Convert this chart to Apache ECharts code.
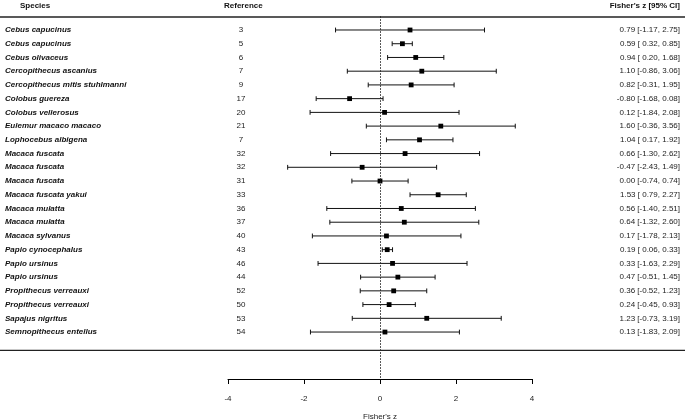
<!DOCTYPE html>
<html>
<head>
<meta charset="utf-8">
<script src="https://cdn.jsdelivr.net/npm/echarts@6/dist/echarts.min.js"></script>
<style>html,body{margin:0;padding:0;background:#fff}#c{width:685px;height:419px}</style>
</head>
<body>
<div id="c"></div>
<script>
var species = ["Cebus capucinus","Cebus capucinus","Cebus olivaceus","Cercopithecus ascanius","Cercopithecus mitis stuhlmanni","Colobus guereza","Colobus vellerosus","Eulemur macaco macaco","Lophocebus albigena","Macaca fuscata","Macaca fuscata","Macaca fuscata","Macaca fuscata yakui","Macaca mulatta","Macaca mulatta","Macaca sylvanus","Papio cynocephalus","Papio ursinus","Papio ursinus","Propithecus verreauxi","Propithecus verreauxi","Sapajus nigritus","Semnopithecus entellus"];
var refs = [3,5,6,7,9,17,20,21,7,32,32,31,33,36,37,40,43,46,44,52,50,53,54];
var est = [0.79,0.59,0.94,1.10,0.82,-0.80,0.12,1.60,1.04,0.66,-0.47,0.00,1.53,0.56,0.64,0.17,0.19,0.33,0.47,0.36,0.24,1.23,0.13];
var lo  = [-1.17,0.32,0.20,-0.86,-0.31,-1.68,-1.84,-0.36,0.17,-1.30,-2.43,-0.74,0.79,-1.40,-1.32,-1.78,0.06,-1.63,-0.51,-0.52,-0.45,-0.73,-1.83];
var hi  = [2.75,0.85,1.68,3.06,1.95,0.08,2.08,3.56,1.92,2.62,1.49,0.74,2.27,2.51,2.60,2.13,0.33,2.29,1.45,1.23,0.93,3.19,2.09];
var xTicks = [-4,-2,0,2,4];

function fmt(v){ var s = v.toFixed(2); return v < 0 ? s : ' ' + s; }
function ciText(i){ return est[i].toFixed(2) + ' [' + fmt(lo[i]) + ', ' + hi[i].toFixed(2) + ']'; }

var data = est.map(function(e,i){ return [e, i, lo[i], hi[i]]; });
var YMIN = -1, YMAX = 25.42;
var FONT = 'Liberation Sans, Arial, sans-serif';

function yAx(extra){
  var base = {
    type:'value', min:YMIN, max:YMAX, interval:1, inverse:true,
    axisLine:{show:false}, axisTick:{show:false}, splitLine:{show:false},
    axisLabel:{fontSize:8, fontFamily:FONT, color:'#111', showMaxLabel:false, showMinLabel:false}
  };
  for (var k in extra){
    if (k === 'axisLabel'){ for (var j in extra.axisLabel) base.axisLabel[j] = extra.axisLabel[j]; }
    else base[k] = extra[k];
  }
  return base;
}
function idxOf(v){ var i = Math.round(v); return (Math.abs(v-i) < 1e-6 && i >= 0 && i < species.length) ? i : -1; }

var chart = echarts.init(document.getElementById('c'), null, {renderer:'canvas'});
chart.setOption({
  animation:false,
  grid:{left:228, right:153, top:16.27, bottom:40, containLabel:false, outerBoundsMode:'none'},
  xAxis:{
    type:'value', min:-4, max:4, interval:2,
    axisLine:{onZero:false, lineStyle:{color:'#000', width:1}},
    axisTick:{length:5, lineStyle:{color:'#000'}},
    axisLabel:{fontSize:8, fontFamily:FONT, color:'#222', margin:16,
      formatter:function(v){ return xTicks.indexOf(v) >= 0 ? String(v) : ''; }},
    splitLine:{show:false},
    name:"Fisher's z", nameLocation:'middle', nameGap:34,
    nameTextStyle:{fontSize:8, fontFamily:FONT, color:'#222'}
  },
  yAxis:[
    yAx({position:'left', axisLabel:{align:'left', margin:223, fontStyle:'italic', fontWeight:'bold',
      formatter:function(v){ var i = idxOf(v); return i < 0 ? '' : species[i]; }}}),
    yAx({position:'left', offset:-13, axisLabel:{align:'center', margin:0, color:'#222',
      formatter:function(v){ var i = idxOf(v); return i < 0 ? '' : String(refs[i]); }}}),
    yAx({position:'right', axisLabel:{align:'right', margin:148, color:'#222',
      formatter:function(v){ var i = idxOf(v); return i < 0 ? '' : ciText(i); }}})
  ],
  graphic:[
    {type:'line', shape:{x1:0,y1:17,x2:685,y2:17}, style:{stroke:'#222', lineWidth:1.3}},
    {type:'line', shape:{x1:0,y1:350.3,x2:685,y2:350.3}, style:{stroke:'#222', lineWidth:1.3}},
    {type:'text', left:20, top:2, style:{text:'Species', fontSize:8, fontWeight:'bold', fontFamily:FONT, fill:'#111'}},
    {type:'text', left:224, top:2, style:{text:'Reference', fontSize:8, fontWeight:'bold', fontFamily:FONT, fill:'#111'}},
    {type:'text', right:5, top:2, style:{text:"Fisher's z [95% CI]", fontSize:8, fontWeight:'bold', fontFamily:FONT, fill:'#111'}}
  ],
  series:[
    {
      type:'custom', yAxisIndex:0, data:data, clip:false,
      encode:{x:[0,2,3], y:1},
      renderItem:function(params, api){
        var y = api.value(1);
        var p0 = api.coord([api.value(2), y]);
        var p1 = api.coord([api.value(3), y]);
        var pc = api.coord([api.value(0), y]);
        var cap = 2.4, s = 4.8;
        var st = {stroke:'#111', lineWidth:1};
        return {type:'group', children:[
          {type:'line', shape:{x1:p0[0],y1:p0[1],x2:p1[0],y2:p1[1]}, style:st},
          {type:'line', shape:{x1:p0[0],y1:p0[1]-cap,x2:p0[0],y2:p0[1]+cap}, style:st},
          {type:'line', shape:{x1:p1[0],y1:p1[1]-cap,x2:p1[0],y2:p1[1]+cap}, style:st},
          {type:'rect', shape:{x:pc[0]-s/2, y:pc[1]-s/2, width:s, height:s}, style:{fill:'#000'}}
        ]};
      },
      markLine:{
        silent:true, symbol:['none','none'], label:{show:false},
        lineStyle:{type:[1.5,1.5], color:'#222', width:1},
        data:[{xAxis:0}]
      }
    }
  ]
});
</script>
</body>
</html>
